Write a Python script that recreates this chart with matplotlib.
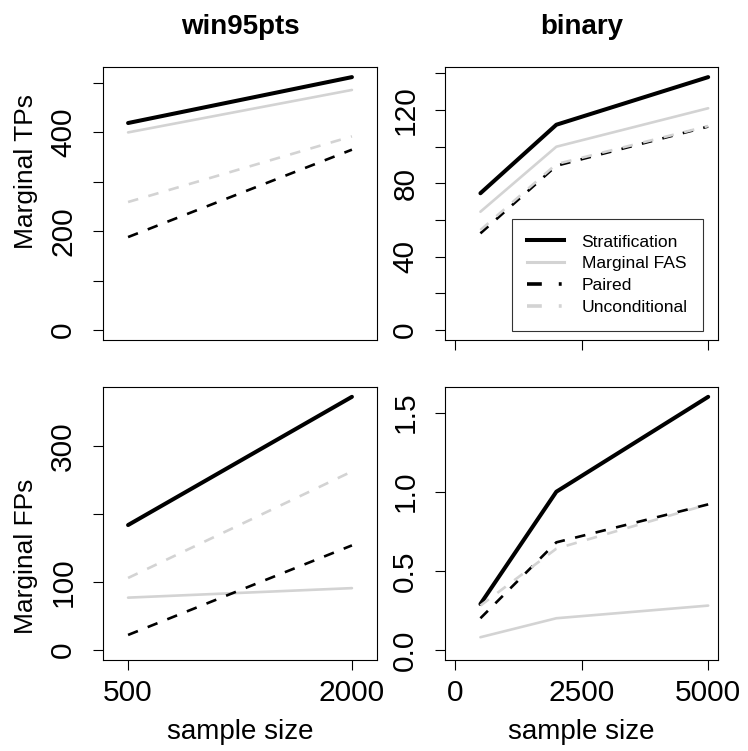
"""
Marginal TPs / FPs of four methods vs. sample size, for two networks.
R base-graphics look-alike, 2x2 panels.
"""

import matplotlib
matplotlib.use("Agg")
import matplotlib.pyplot as plt
from matplotlib.lines import Line2D

plt.rcParams['font.family'] = ['Liberation Sans', 'DejaVu Sans']

# ---- data ----
methods = ["Stratification", "Marginal FAS", "Paired", "Unconditional"]

win_sizes = [500, 2000]
bin_sizes = [500, 2000, 5000]

# win95pts
win_tp_strat = [419, 512]
win_tp_fas = [400, 486]
win_tp_paired = [188, 365]
win_tp_uncond = [259, 392]

win_fp_strat = [184, 373]
win_fp_fas = [77, 91]
win_fp_paired = [22, 154]
win_fp_uncond = [106, 263]

# binary
bin_tp_strat = [74.6, 112, 138]
bin_tp_fas = [64.5, 100, 121]
bin_tp_paired = [52.7, 89.6, 111]
bin_tp_uncond = [54.5, 90.5, 111.3]

bin_fp_strat = [0.29, 1.0, 1.6]
bin_fp_fas = [0.08, 0.2, 0.28]
bin_fp_paired = [0.2, 0.68, 0.92]
bin_fp_uncond = [0.28, 0.64, 0.92]

GRAY = '#D3D3D3'
STYLES = [
    dict(color='black', lw=2.9, ls='-'),
    dict(color=GRAY, lw=1.9, ls='-'),
    dict(color='black', lw=1.9, ls=(0, (4, 4))),
    dict(color=GRAY, lw=1.9, ls=(0, (4, 4))),
]

W, H = 748, 751


def add_panel(fig, left, top, right, bottom):
    """Axes from pixel box (top-left origin)."""
    return fig.add_axes([left / W, (H - bottom) / H, (right - left) / W, (bottom - top) / H])


def r_lim(lo, hi):
    pad = (hi - lo) * 0.04
    return lo - pad, hi + pad


def draw_panel(ax, xs, series, xlim, ylim, yticks, ylabels, xticks=None, xlabels=None):
    for ys, st in zip(series, STYLES):
        ax.plot(xs, ys, color=st['color'], linewidth=st['lw'], linestyle=st['ls'],
                solid_capstyle='round', dash_capstyle='butt')
    ax.set_xlim(*r_lim(*xlim))
    ax.set_ylim(*r_lim(*ylim))

    ax.set_yticks(yticks)
    ax.set_yticklabels(ylabels, rotation=90, va='center', fontsize=21.5)
    if xticks is None:
        ax.set_xticks([])
    else:
        ax.set_xticks(xticks)
        if xlabels is None:
            ax.set_xticklabels([])
        else:
            ax.set_xticklabels(xlabels, fontsize=21.5)

    ax.tick_params(axis='y', length=7.5, width=0.8, pad=11)
    ax.tick_params(axis='x', length=7.5, width=0.8, pad=6)
    for sp in ax.spines.values():
        sp.set_linewidth(0.8)


def main():
    fig = plt.figure(figsize=(W / 100, H / 100), dpi=100)

    ax_tl = add_panel(fig, 103, 67, 377, 340)
    ax_tr = add_panel(fig, 445, 67, 718.3, 340)
    ax_bl = add_panel(fig, 103, 386.7, 377, 660)
    ax_br = add_panel(fig, 445, 386.7, 718.3, 660)

    draw_panel(ax_tl, win_sizes,
               [win_tp_strat, win_tp_fas, win_tp_paired, win_tp_uncond],
               (400, 2100), (0, max(win_tp_strat)),
               [0, 100, 200, 300, 400, 500], ['0', '', '200', '', '400', ''])

    draw_panel(ax_tr, bin_sizes,
               [bin_tp_strat, bin_tp_fas, bin_tp_paired, bin_tp_uncond],
               (0, 5000), (0, max(bin_tp_strat)),
               [0, 20, 40, 60, 80, 100, 120, 140], ['0', '', '40', '', '80', '', '120', ''],
               xticks=[0, 2500, 5000])

    draw_panel(ax_bl, win_sizes,
               [win_fp_strat, win_fp_fas, win_fp_paired, win_fp_uncond],
               (400, 2100), (0, max(win_fp_strat)),
               [0, 100, 200, 300], ['0', '100', '', '300'],
               xticks=[500, 2000], xlabels=['500', '2000'])

    draw_panel(ax_br, bin_sizes,
               [bin_fp_strat, bin_fp_fas, bin_fp_paired, bin_fp_uncond],
               (0, 5000), (0, max(bin_fp_strat)),
               [0, 0.5, 1.0, 1.5], ['0.0', '0.5', '1.0', '1.5'],
               xticks=[0, 2500, 5000], xlabels=['0', '2500', '5000'])

    # titles
    for ax, name in ((ax_tl, 'win95pts'), (ax_tr, 'binary')):
        ax.text(0.5, 1.145, name, transform=ax.transAxes, fontsize=20,
                fontweight='bold', ha='center', va='center')

    # axis labels
    ax_tl.set_ylabel('Marginal TPs', fontsize=19, va='center')
    ax_tl.yaxis.set_label_coords(-0.28, 0.616)
    ax_bl.set_ylabel('Marginal FPs', fontsize=19, va='center')
    ax_bl.yaxis.set_label_coords(-0.28, 0.381)
    for ax in (ax_bl, ax_br):
        ax.set_xlabel('sample size', fontsize=20, va='center')
        ax.xaxis.set_label_coords(0.5, -0.265)

    # legend (R-style short dashed sample)
    handles = [
        Line2D([], [], color='black', linewidth=2.9),
        Line2D([], [], color=GRAY, linewidth=2.2),
        Line2D([], [], color='black', linewidth=2.6, linestyle=(0, (4.1, 4.7, 0.8, 10))),
        Line2D([], [], color=GRAY, linewidth=2.6, linestyle=(0, (4.1, 4.7, 0.8, 10))),
    ]
    leg = ax_tr.legend(handles, methods, loc='lower right',
                       bbox_to_anchor=(703.3 / W, (H - 331) / H),
                       bbox_transform=fig.transFigure,
                       fontsize=12.6, frameon=True, fancybox=False,
                       handlelength=2.1, handletextpad=1.0, labelspacing=0.38,
                       borderpad=0.9, borderaxespad=0)
    leg.get_frame().set_edgecolor('black')
    leg.get_frame().set_linewidth(0.8)

    fig.savefig('out.png', dpi=100)


if __name__ == "__main__":
    main()
